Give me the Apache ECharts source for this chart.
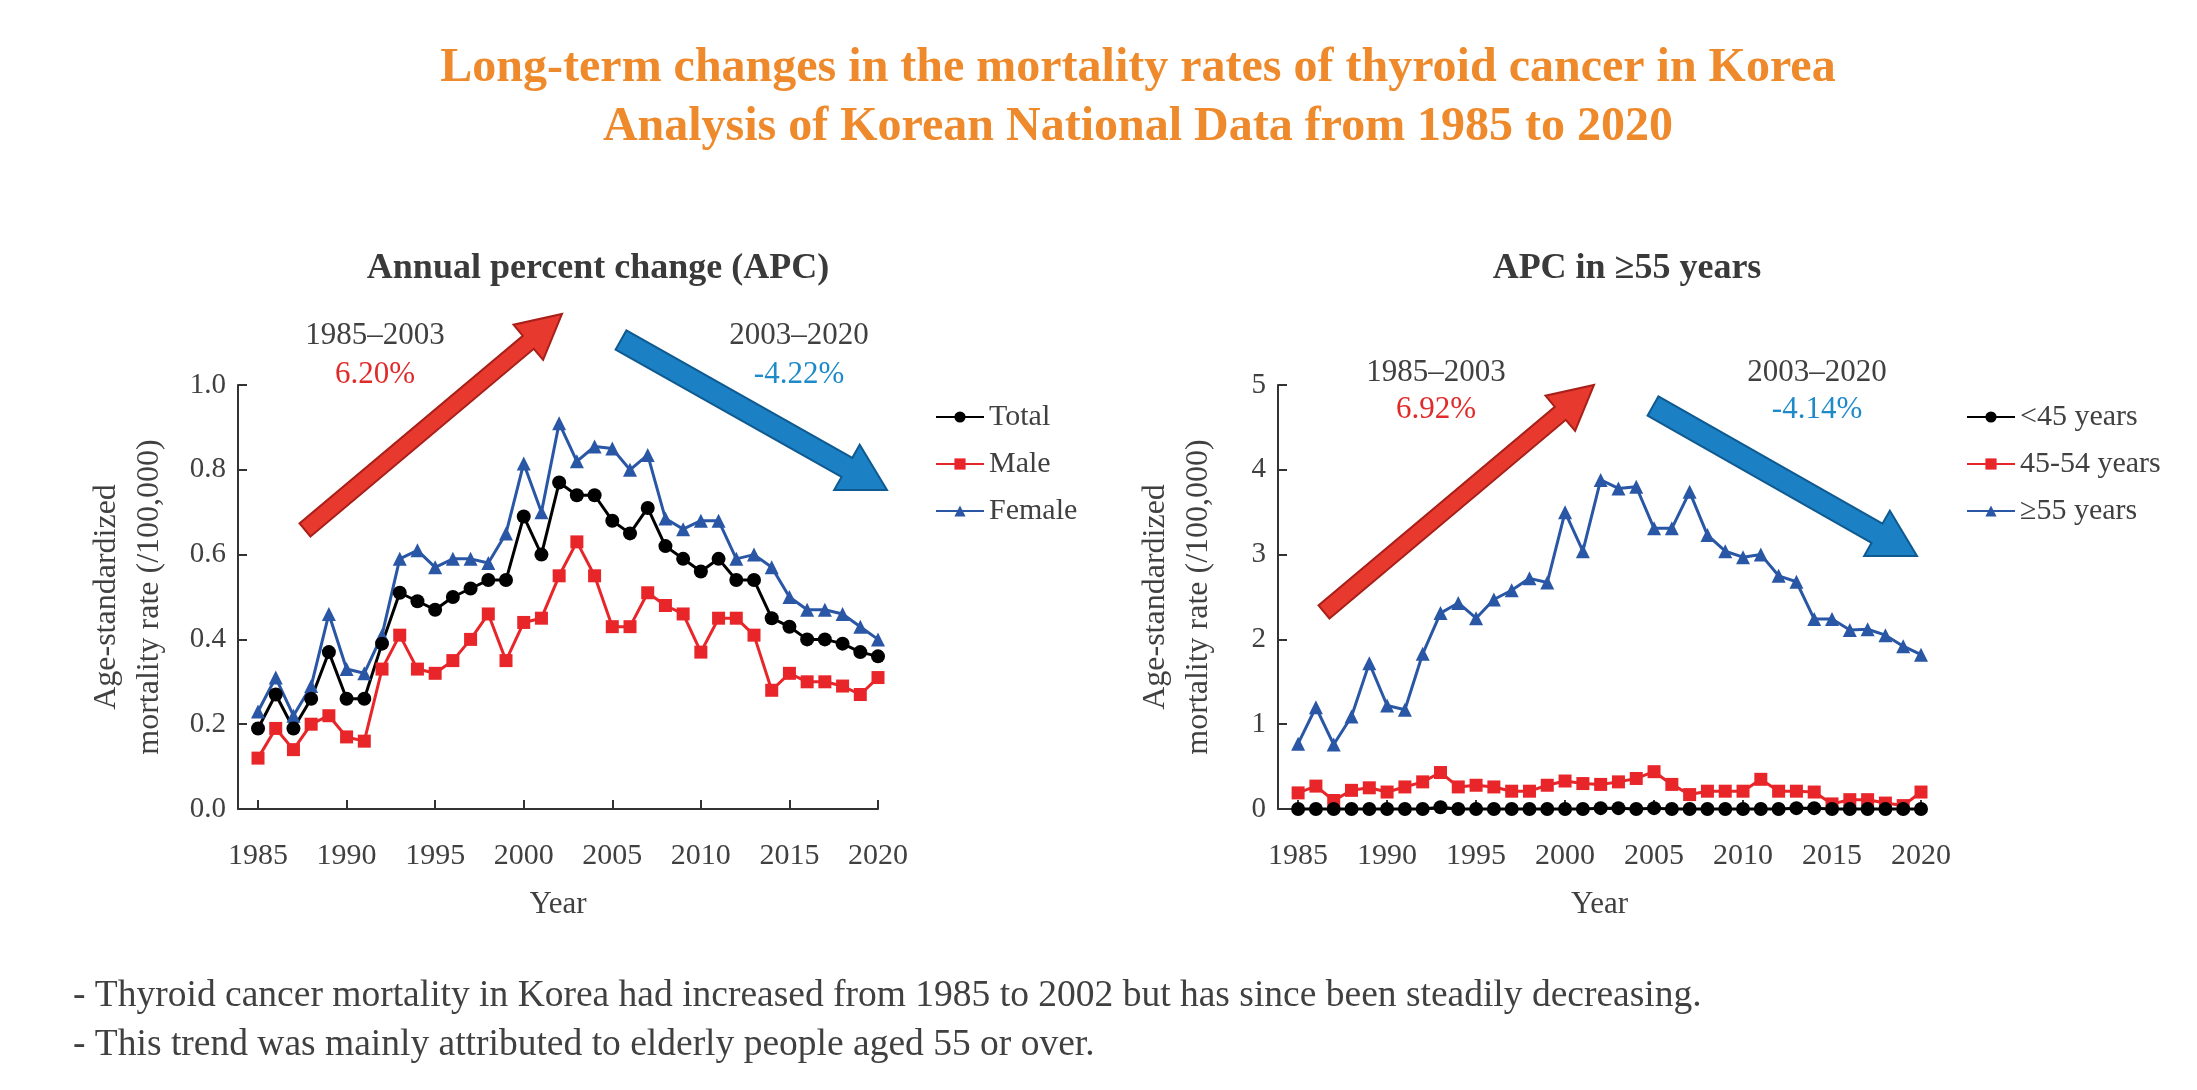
<!DOCTYPE html>
<html>
<head>
<meta charset="utf-8">
<script src="https://cdn.jsdelivr.net/npm/echarts@6/dist/echarts.min.js"></script>
<style>
html,body{margin:0;padding:0;background:#fff;}
#chart{width:2197px;height:1090px;}
</style>
</head>
<body>
<div id="chart"></div>
<script>
const years = [1985,1986,1987,1988,1989,1990,1991,1992,1993,1994,1995,1996,1997,1998,1999,2000,2001,2002,2003,2004,2005,2006,2007,2008,2009,2010,2011,2012,2013,2014,2015,2016,2017,2018,2019,2020];
const yearTicks = [1985,1990,1995,2000,2005,2010,2015,2020];

const total  = [0.19,0.27,0.19,0.26,0.37,0.26,0.26,0.39,0.51,0.49,0.47,0.50,0.52,0.54,0.54,0.69,0.60,0.77,0.74,0.74,0.68,0.65,0.71,0.62,0.59,0.56,0.59,0.54,0.54,0.45,0.43,0.40,0.40,0.39,0.37,0.36];
const male   = [0.12,0.19,0.14,0.20,0.22,0.17,0.16,0.33,0.41,0.33,0.32,0.35,0.40,0.46,0.35,0.44,0.45,0.55,0.63,0.55,0.43,0.43,0.51,0.48,0.46,0.37,0.45,0.45,0.41,0.28,0.32,0.30,0.30,0.29,0.27,0.31];
const female = [0.23,0.31,0.22,0.29,0.46,0.33,0.32,0.41,0.59,0.61,0.57,0.59,0.59,0.58,0.65,0.815,0.70,0.91,0.82,0.855,0.85,0.80,0.835,0.685,0.66,0.68,0.68,0.59,0.60,0.57,0.50,0.47,0.47,0.46,0.43,0.40];

const under45 = [0.00,0.00,0.00,0.00,0.00,0.00,0.00,0.00,0.02,0.00,0.00,0.00,0.00,0.00,0.00,0.00,0.00,0.01,0.01,0.00,0.01,0.00,0.00,0.00,0.00,0.00,0.00,0.00,0.01,0.01,0.00,0.00,0.00,0.00,0.00,0.00];
const age4554 = [0.19,0.27,0.10,0.22,0.25,0.20,0.26,0.32,0.43,0.26,0.28,0.26,0.21,0.21,0.28,0.33,0.30,0.29,0.32,0.36,0.44,0.29,0.17,0.21,0.21,0.21,0.35,0.21,0.21,0.20,0.06,0.11,0.11,0.07,0.04,0.20];
const over55  = [0.77,1.20,0.76,1.09,1.72,1.22,1.17,1.83,2.31,2.43,2.25,2.47,2.58,2.72,2.67,3.50,3.04,3.88,3.78,3.80,3.31,3.31,3.74,3.23,3.04,2.97,3.00,2.75,2.68,2.24,2.24,2.11,2.12,2.05,1.92,1.82];

const FONT = '"Liberation Serif", "Times New Roman", serif';
const GREY = '#404040';
const C_BLACK = '#000000', C_RED = '#E8262A', C_BLUE = '#2A57A5';
const ANN_RED = '#E02B2B', ANN_BLUE = '#1F8AC9';

function pairs(arr){ return years.map((y,i)=>[y,arr[i]]); }

function xAxisCfg(gi){
  return {
    type:'value', gridIndex:gi, min:1983.87, max:2020,
    name:'Year', nameLocation:'middle', nameGap:80,
    nameTextStyle:{fontFamily:FONT,fontSize:31,color:GREY},
    axisLine:{lineStyle:{color:'#333',width:2}},
    axisTick:{inside:true,length:9,customValues:yearTicks,lineStyle:{color:'#333',width:2}},
    axisLabel:{customValues:yearTicks,margin:32,fontFamily:FONT,fontSize:30,color:GREY,formatter:v=>String(Math.round(v))},
    splitLine:{show:false}
  };
}
function yAxisCfg(gi,max,interval,gap,fmt){
  return {
    type:'value', gridIndex:gi, min:0, max:max, interval:interval,
    name:'Age-standardized\nmortality rate (/100,000)', nameLocation:'middle', nameGap:gap, nameRotate:90,
    nameTextStyle:{fontFamily:FONT,fontSize:32,color:GREY,lineHeight:43,align:'center'},
    axisLine:{show:true,lineStyle:{color:'#333',width:2}},
    axisTick:{show:true,inside:true,length:9,lineStyle:{color:'#333',width:2}},
    axisLabel:{margin:12,fontFamily:FONT,fontSize:29,color:GREY,formatter:fmt},
    splitLine:{show:false}
  };
}
function lineSeries(name,data,color,symbol,size,xi){
  return {
    type:'line', name:name, xAxisIndex:xi, yAxisIndex:xi, data:pairs(data),
    symbol:symbol, symbolSize:size, clip:false,
    lineStyle:{color:color,width:3}, itemStyle:{color:color}, z:3
  };
}

function arrow(x1,y1,x2,y2,shaftW,headW,headL,fill,stroke){
  const dx=x2-x1, dy=y2-y1, L=Math.hypot(dx,dy);
  const ux=dx/L, uy=dy/L, px=-uy, py=ux;
  const bx=x2-ux*headL, by=y2-uy*headL;
  const s=shaftW/2, h=headW/2;
  const pts=[
    [x1+px*s,y1+py*s],[bx+px*s,by+py*s],[bx+px*h,by+py*h],[x2,y2],
    [bx-px*h,by-py*h],[bx-px*s,by-py*s],[x1-px*s,y1-py*s]
  ];
  return {type:'polygon',shape:{points:pts},style:{fill:fill,stroke:stroke,lineWidth:2},z:1};
}
function txt(x,y,t,color,size,weight){
  return {type:'text',x:x,y:y,style:{text:t,fill:color,font:(weight||'normal')+' '+size+'px '+FONT,textAlign:'center',textVerticalAlign:'middle'},z:5};
}
function ltxt(x,y,t){
  return {type:'text',x:x,y:y,style:{text:t,fill:GREY,font:'37.5px '+FONT,textAlign:'left',textVerticalAlign:'middle'},z:5};
}

const chart = echarts.init(document.getElementById('chart'));
chart.setOption({
  backgroundColor:'#fff',
  animation:false,
  title:[
    {text:'Long-term changes in the mortality rates of thyroid cancer in Korea\nAnalysis of Korean National Data from 1985 to 2020',
     left:1133, top:34, textAlign:'center',
     textStyle:{fontFamily:FONT,fontSize:48,fontWeight:'bold',color:'#EE8A2C',lineHeight:59,align:'center'}},
    {text:'Annual percent change (APC)', left:593, top:246, textAlign:'center',
     textStyle:{fontFamily:FONT,fontSize:36,fontWeight:'bold',color:'#3a3a3a'}},
    {text:'APC in \u226555 years', left:1622, top:246, textAlign:'center',
     textStyle:{fontFamily:FONT,fontSize:36,fontWeight:'bold',color:'#3a3a3a'}}
  ],
  grid:[
    {left:238, top:385, width:640, height:424},
    {left:1278, top:385, width:643, height:424}
  ],
  xAxis:[xAxisCfg(0), xAxisCfg(1)],
  yAxis:[
    yAxisCfg(0,1.0,0.2,67,v=>v.toFixed(1)),
    yAxisCfg(1,5,1,58,v=>String(v))
  ],
  legend:[
    {data:['Total','Male','Female'], orient:'vertical', left:930, top:397, itemWidth:48, itemHeight:14, itemGap:17,
     textStyle:{fontFamily:FONT,fontSize:30,color:GREY}},
    {data:['<45 years','45-54 years','\u226555 years'], orient:'vertical', left:1961, top:397, itemWidth:48, itemHeight:14, itemGap:17,
     textStyle:{fontFamily:FONT,fontSize:30,color:GREY}}
  ],
  series:[
    lineSeries('Male',male,C_RED,'rect',13,0),
    lineSeries('Female',female,C_BLUE,'triangle',14,0),
    lineSeries('Total',total,C_BLACK,'circle',14,0),
    lineSeries('45-54 years',age4554,C_RED,'rect',13,1),
    lineSeries('\u226555 years',over55,C_BLUE,'triangle',14,1),
    lineSeries('<45 years',under45,C_BLACK,'circle',14,1)
  ],
  graphic:[
    arrow(305,530,562,314,17,46,44,'#E8392F','#A82019'),
    arrow(621,340,887,490,22,52,46,'#1B80C4','#0F5A90'),
    arrow(1324,612,1594,385,17,46,44,'#E8392F','#A82019'),
    arrow(1653,406,1917,556,22,52,46,'#1B80C4','#0F5A90'),
    txt(375,336,'1985\u20132003',GREY,31),
    txt(375,375,'6.20%',ANN_RED,31),
    txt(799,336,'2003\u20132020',GREY,31),
    txt(799,375,'-4.22%',ANN_BLUE,31),
    txt(1436,373,'1985\u20132003',GREY,31),
    txt(1436,410,'6.92%',ANN_RED,31),
    txt(1817,373,'2003\u20132020',GREY,31),
    txt(1817,410,'-4.14%',ANN_BLUE,31),
    ltxt(73,996,'- Thyroid cancer mortality in Korea had increased from 1985 to 2002 but has since been steadily decreasing.'),
    ltxt(73,1045,'- This trend was mainly attributed to elderly people aged 55 or over.')
  ]
});
</script>
</body>
</html>
